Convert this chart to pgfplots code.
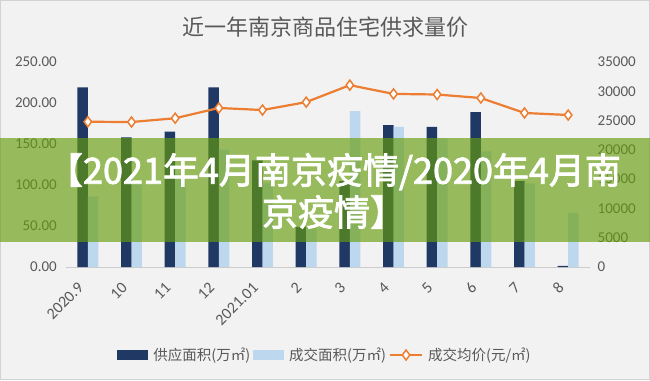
\documentclass[border=0pt]{standalone}
\usepackage{pgfplots}
\pgfplotsset{compat=1.18}
\usepackage{fontspec}
\setmainfont{Carlito}
\newfontfamily\cjk{Noto Sans CJK SC}
\newfontfamily\cjkbf{Noto Sans CJK SC}[FakeBold=2.2]
\definecolor{navy}{RGB}{31,56,100}
\definecolor{lblue}{RGB}{189,215,238}
\definecolor{org}{RGB}{237,125,49}
\definecolor{txt}{RGB}{89,89,89}
\definecolor{bg}{RGB}{242,242,242}
\definecolor{bord}{RGB}{210,210,210}
\definecolor{ban}{RGB}{103,158,12}
\pgfplotsset{linelegend/.style={legend image code/.code={\draw[mark repeat=2,mark phase=2,##1] plot coordinates {(0bp,0bp) (16bp,0bp) (32bp,0bp)};}},
  barlegend/.style={legend image code/.code={\fill[##1] (0bp,-5bp) rectangle (31bp,5bp);}}}
\begin{document}
\begin{tikzpicture}[x=1bp,y=1bp]
\path[use as bounding box] (0,0) rectangle (650,380);
\fill[bg] (0,0) rectangle (650,380);
\draw[bord, line width=1bp] (0.5,0.5) rectangle (649.5,379.5);
\node[text=txt, font=\cjk\fontsize{22bp}{26bp}\selectfont] at (325,352.5) {近一年南京商品住宅供求量价};
\begin{axis}[
  at={(66bp,113bp)}, anchor=south west,
  scale only axis, width=524bp, height=205bp,
  xmin=-0.5, xmax=11.5, ymin=0, ymax=250,
  ybar=0pt, bar width=0.24,
  xtick={0,...,11}, xticklabels={2020.9,10,11,12,2021.01,2,3,4,5,6,7,8},
  ytick={0,50,...,250},
  axis x line*=bottom, axis y line*=left,
  y axis line style={draw=none},
  x axis line style={draw=black!20, line width=0.8bp, -},
  major tick length=0pt,
  tick label style={font=\fontsize{15bp}{18bp}\selectfont, text=txt},
  xticklabel style={font=\fontsize{16bp}{18bp}\selectfont, xshift=-7bp, yshift=-18bp, rotate=45, anchor=east, inner sep=0pt},
  yticklabel style={inner sep=0pt, xshift=-9bp, /pgf/number format/fixed, /pgf/number format/fixed zerofill, /pgf/number format/precision=2, /pgf/number format/assume math mode=true},
]
\addplot[fill=navy, draw=none] coordinates {(0,219) (1,158) (2,165) (3,219) (4,130) (5,49) (6,105) (7,173) (8,171) (9,189) (10,105) (11,1.5)};
\addplot[fill=lblue, draw=none] coordinates {(0,86) (1,104) (2,114) (3,143) (4,102) (5,48) (6,190) (7,171) (8,157) (9,141) (10,102) (11,66)};
\end{axis}
\begin{axis}[
  at={(66bp,113bp)}, anchor=south west,
  scale only axis, width=524bp, height=205bp,
  xmin=-0.5, xmax=11.5, ymin=0, ymax=35000,
  axis x line=none, axis y line*=right, y axis line style={draw=none},
  major tick length=0pt,
  ytick={0,5000,...,35000}, scaled y ticks=false,
  tick label style={font=\fontsize{15bp}{18bp}\selectfont, text=txt},
  yticklabel style={inner sep=0pt, xshift=7.5bp, /pgf/number format/fixed, /pgf/number format/1000 sep={}, /pgf/number format/assume math mode=true},
  legend style={at={(0.4943,-0.4293)}, anchor=center, draw=none, fill=none,
    font=\cjk\fontsize{14.5bp}{17bp}\selectfont, text=txt,
    /tikz/every even column/.append style={column sep=1bp},
    /tikz/every odd column/.append style={column sep=3bp}},
  legend columns=3, legend cell align=left,
]
\addlegendimage{barlegend, fill=navy, draw=none}
\addlegendentry{供应面积(万㎡)}
\addlegendimage{barlegend, fill=lblue, draw=none}
\addlegendentry{成交面积(万㎡)}
\addplot[org, line width=2.2bp, mark=diamond*, mark size=5bp, mark options={fill=white, line width=1.5bp}, linelegend]
  coordinates {(0,24800) (1,24750) (2,25400) (3,27150) (4,26800) (5,28150) (6,31050) (7,29550) (8,29450) (9,28850) (10,26300) (11,25950)};
\addlegendentry{成交均价(元/㎡)}
\end{axis}
\fill[ban, opacity=0.65] (0,138) rectangle (650,242);
\node[text=white, align=center, font=\cjkbf\fontsize{36bp}{42bp}\selectfont] at (334,189) {【2021年4月南京疫情/2020年4月南\\京疫情】};
\end{tikzpicture}
\end{document}
